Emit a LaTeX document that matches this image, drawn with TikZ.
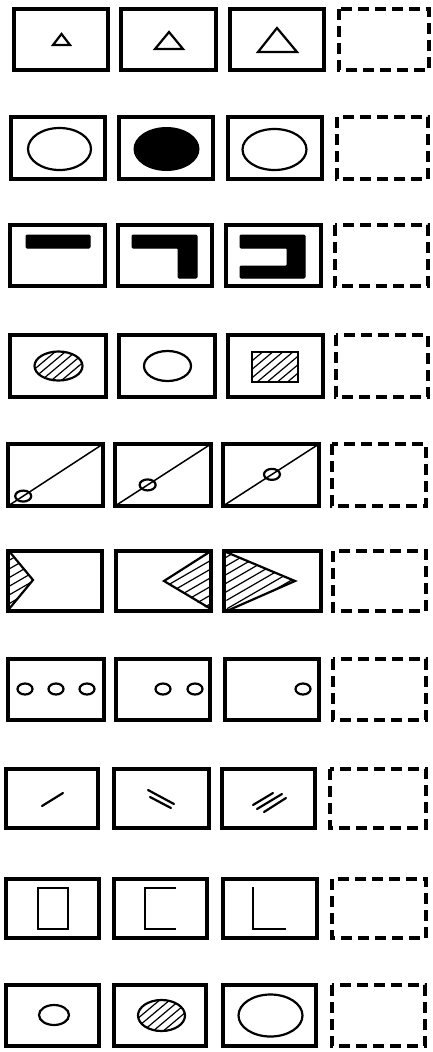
\documentclass[tikz,border=0pt]{standalone}
\usetikzlibrary{calc}
\tikzset{
 x=1pt, y=-1pt,
 frame/.style={line width=4.5pt, line join=miter},
 dframe/.style={line width=3.5pt, dash pattern=on 11pt off 6pt},
 fig/.style={line width=2.2pt},
 thinline/.style={line width=1.5pt},
 hl/.style={line width=1.2pt},
 bar/.style={fill=black, draw=black, line width=1pt, rounded corners=1pt}
}
\newcommand\hatchat[5]{%
 \begin{scope}
 \clip #1;
 \foreach \k in {-70,...,70} {\pgfmathsetmacro\kk{\k*#5}\draw[hl,shift={(#2,#3)},rotate=#4] (-90,\kk) -- (90,\kk);}
 \end{scope}}
\begin{document}
\begin{tikzpicture}
\useasboundingbox (0,0) rectangle (432,1052);
% ---------- Row 1
\draw[frame] (14,9) rectangle (108,70);
\draw[frame] (121,9) rectangle (216,70);
\draw[frame] (230,9) rectangle (324,70);
\draw[dframe] (339,9) rectangle (429,70);
\draw[fig] (61.5,34) -- (70,45) -- (53,45) -- cycle;
\draw[fig] (169,32) -- (183,49) -- (155,49) -- cycle;
\draw[fig] (277,28) -- (297,52) -- (258,52) -- cycle;
% ---------- Row 2
\draw[frame] (11,117) rectangle (105,179);
\draw[frame] (119,117) rectangle (213,179);
\draw[frame] (228,117) rectangle (322,179);
\draw[dframe] (337,117) rectangle (428,179);
\draw[fig] (59.5,149) ellipse [x radius=31.5pt, y radius=21pt];
\fill (166.5,149) ellipse [x radius=33pt, y radius=22pt];
\draw[fig] (274.5,149.5) ellipse [x radius=32pt, y radius=20.5pt];
% ---------- Row 3
\draw[frame] (10,225) rectangle (105,286);
\draw[frame] (118,225) rectangle (212,286);
\draw[frame] (226,225) rectangle (321,286);
\draw[dframe] (335,225) rectangle (428,286);
\draw[bar] (26,235) rectangle (90,248);
\draw[bar] (132,235) -- (197,235) -- (197,278) -- (178,278) -- (178,248) -- (132,248) -- cycle;
\draw[bar] (240,235) -- (305,235) -- (305,278) -- (240,278) -- (240,266) -- (287,266) -- (287,248) -- (240,248) -- cycle;
% ---------- Row 4
\draw[frame] (10,335) rectangle (106,397);
\draw[frame] (119,335) rectangle (215,397);
\draw[frame] (228,335) rectangle (323,397);
\draw[dframe] (336,335) rectangle (428,397);
\hatchat{(58.5,366) ellipse [x radius=24pt, y radius=14.5pt]}{58.5}{366}{40}{6.5}
\draw[fig] (58.5,366) ellipse [x radius=24pt, y radius=14.5pt];
\draw[fig] (167.5,366) ellipse [x radius=23.5pt, y radius=15pt];
\hatchat{(252,352) rectangle (298,382)}{275}{367}{40}{6.5}
\draw[fig] (252,352) rectangle (298,382);
% ---------- Row 5
\draw[frame] (8,444) rectangle (103,506);
\draw[frame] (115,444) rectangle (211,506);
\draw[frame] (223,444) rectangle (319,506);
\draw[dframe] (332,444) rectangle (426,506);
\coordinate (a1) at (8,506); \coordinate (b1) at (103,444);
\coordinate (a2) at (115,506); \coordinate (b2) at (211,444);
\coordinate (a3) at (223,506); \coordinate (b3) at (319,444);
\draw[thinline] (a1) -- (b1);
\draw[thinline] (a2) -- (b2);
\draw[thinline] (a3) -- (b3);
\draw[fig] ($(a1)!0.16!(b1)$) ellipse [x radius=8pt, y radius=5.5pt];
\draw[fig] ($(a2)!0.34!(b2)$) ellipse [x radius=8pt, y radius=5.5pt];
\draw[fig] ($(a3)!0.51!(b3)$) ellipse [x radius=8pt, y radius=5.5pt];
% ---------- Row 6
\hatchat{(8,551) -- (33,580) -- (8,610) -- cycle}{20}{580}{30}{7.5}
\draw[fig] (9,551) -- (33,580) -- (9,609);
\hatchat{(211,551) -- (164,581) -- (211,611) -- cycle}{190}{581}{30}{7.5}
\draw[fig] (211,551) -- (164,581) -- (211,609);
\hatchat{(224,551) -- (295,581) -- (227,611) -- cycle}{260}{581}{30}{7.5}
\draw[fig] (226,552) -- (295,581) -- (229,610);
\draw[frame] (8,551) rectangle (102,611);
\draw[frame] (116,551) rectangle (211,611);
\draw[frame] (224,551) rectangle (321,611);
\draw[dframe] (333,551) rectangle (426,611);
% ---------- Row 7
\draw[frame] (8,659) rectangle (104,720);
\draw[frame] (116,659) rectangle (210,720);
\draw[frame] (225,659) rectangle (319,720);
\draw[dframe] (333,659) rectangle (426,720);
\foreach \cx in {25,56,87,163,195,303}
  \draw[fig] (\cx,689) ellipse [x radius=7.5pt, y radius=5.5pt];
% ---------- Row 8
\draw[frame] (6,769) rectangle (98,828);
\draw[frame] (114,769) rectangle (209,828);
\draw[frame] (222,769) rectangle (315,828);
\draw[dframe] (330,769) rectangle (426,828);
\draw[fig,line cap=round] (42,806) -- (63,793);
\draw[fig,line cap=round] (148,790) -- (174,804);
\draw[fig,line cap=round] (150,797) -- (171,808);
\draw[fig,line cap=round] (253,805) -- (273,793);
\draw[fig,line cap=round] (257,809) -- (282,794);
\draw[fig,line cap=round] (264,812) -- (286,798);
% ---------- Row 9
\draw[frame] (6,879) rectangle (99,938);
\draw[frame] (114,879) rectangle (207,938);
\draw[frame] (223,879) rectangle (317,938);
\draw[dframe] (332,879) rectangle (426,938);
\draw[fig] (38,888) rectangle (68,929);
\draw[fig] (176,888) -- (145,888) -- (145,929) -- (176,929);
\draw[fig] (253,887) -- (253,929) -- (286,929);
% ---------- Row 10
\draw[frame] (6,985) rectangle (99,1046);
\draw[frame] (114,985) rectangle (206,1046);
\draw[frame] (223,985) rectangle (316,1046);
\draw[dframe] (332,985) rectangle (425,1046);
\draw[fig] (54,1015) ellipse [x radius=15pt, y radius=10pt];
\hatchat{(161.5,1015.5) ellipse [x radius=23.5pt, y radius=15.5pt]}{161.5}{1015.5}{40}{6.5}
\draw[fig] (161.5,1015.5) ellipse [x radius=23.5pt, y radius=15.5pt];
\draw[fig] (270.5,1015.5) ellipse [x radius=32pt, y radius=21pt];
\end{tikzpicture}
\end{document}
